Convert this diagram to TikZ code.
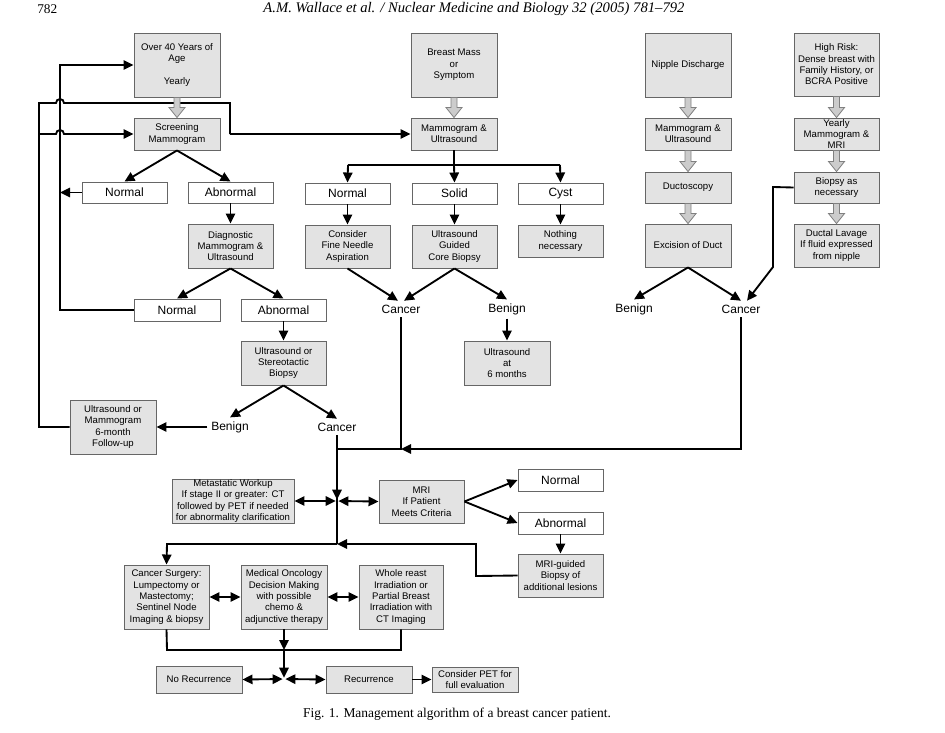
\documentclass[tikz,border=0pt]{standalone}
\usepackage{fontspec}
\setmainfont{Liberation Serif}
\newfontfamily\boxfont{Liberation Sans}
\usetikzlibrary{arrows.meta,calc}
\newcommand{\bx}[7]{\node[#1, minimum width={(#4-#2)*0.75pt}, minimum height={(#5-#3)*0.75pt}] (#6) at ({(#2+#4)/2},{(#3+#5)/2}) {#7};}
\newcommand{\hollow}[2]{\draw[hol] ($(#1.south)+(-3,0)$) -- ($(#1.south)+(3,0)$) -- ($(#2.north)+(3,-10)$) -- ($(#2.north)+(8,-10)$) -- (#2.north) -- ($(#2.north)+(-8,-10)$) -- ($(#2.north)+(-3,-10)$) -- cycle;}
\begin{document}
\begin{tikzpicture}[x=0.75pt,y=-0.75pt,
  gbox/.style={draw=black!60, line width=0.7pt, fill=black!11, align=center, inner sep=0pt, font=\boxfont\fontsize{7.2}{8.5}\selectfont},
  wbox/.style={draw=black!60, line width=0.7pt, fill=white, inner sep=0pt, font=\boxfont\fontsize{9}{10}\selectfont},
  lbl/.style={font=\boxfont\fontsize{9}{10}\selectfont, inner sep=1pt, outer sep=2pt},
  tip/.tip={Triangle[length=7.5pt,width=7pt]},
  conn/.style={line width=1.4pt, -tip},
  plain/.style={line width=1.4pt},
  dbl/.style={line width=1.4pt, tip-tip},
  hol/.style={draw=black!50, fill=black!20, line width=0.6pt}
]
\useasboundingbox (0,0) rectangle (945,732);
% header and caption
\node[anchor=west, inner sep=0pt, font=\fontsize{10}{12}\selectfont] (pg) at (37,9) {782};
\node[inner sep=0pt, font=\itshape\fontsize{11}{13}\selectfont] (hd) at (474,9) {A.M. Wallace et al. / Nuclear Medicine and Biology 32 (2005) 781--792};
\node[inner sep=0pt, font=\fontsize{10.1}{12}\selectfont] (cap) at (457,714) {Fig. 1. Management algorithm of a breast cancer patient.};

% left column
\bx{gbox}{134}{33}{220}{97}{over40}{Over 40 Years of\\Age\\[8.5pt]Yearly}
\bx{gbox}{134}{118}{220}{150}{screen}{Screening\\Mammogram}
\bx{wbox}{82}{182}{167}{203}{norm1}{Normal}
\bx{wbox}{188}{182}{273}{203}{abn1}{Abnormal}
\bx{gbox}{188}{224}{273}{268}{diag}{Diagnostic\\Mammogram \&\\Ultrasound}
\bx{wbox}{134}{299}{220}{321}{norm2}{Normal}
\bx{wbox}{241}{299}{326}{321}{abn2}{Abnormal}
\bx{gbox}{241}{341}{326}{385}{usb}{Ultrasound or\\Stereotactic\\Biopsy}
\node[lbl] (benign1) at (230,427) {Benign};
\node[lbl] (cancer1) at (337,427) {Cancer};
\bx{gbox}{70}{400}{156}{454}{follow}{Ultrasound or\\Mammogram\\6-month\\Follow-up}

% middle column
\bx{gbox}{411}{33}{497}{97}{breast}{Breast Mass\\or\\Symptom}
\bx{gbox}{411}{118}{497}{150}{mu1}{Mammogram \&\\Ultrasound}
\bx{wbox}{305}{183}{390}{204}{norm3}{Normal}
\bx{wbox}{412}{183}{497}{204}{solid}{Solid}
\bx{wbox}{518}{183}{603}{204}{cyst}{Cyst}
\bx{gbox}{305}{225}{390}{268}{fna}{Consider\\Fine Needle\\Aspiration}
\bx{gbox}{412}{225}{497}{268}{ucb}{Ultrasound\\Guided\\Core Biopsy}
\bx{gbox}{518}{225}{603}{257}{nothing}{Nothing\\necessary}
\node[lbl] (cancer2) at (401,309) {Cancer};
\node[lbl] (benign2) at (507,309) {Benign};
\bx{gbox}{464}{341}{550}{385}{us6}{Ultrasound\\at\\6 months}

% right columns
\bx{gbox}{645}{33}{731}{97}{nipple}{Nipple Discharge}
\bx{gbox}{645}{118}{731}{150}{mu2}{Mammogram \&\\Ultrasound}
\bx{gbox}{645}{172}{731}{203}{ducto}{Ductoscopy}
\bx{gbox}{645}{224}{731}{267}{excision}{Excision of Duct}
\bx{gbox}{794}{33}{879}{96}{high}{High Risk:\\Dense breast with\\Family History, or\\BCRA Positive}
\bx{gbox}{794}{118}{879}{150}{yearly}{Yearly\\Mammogram \&\\MRI}
\bx{gbox}{794}{172}{879}{203}{biopsy}{Biopsy as\\necessary}
\bx{gbox}{794}{224}{879}{267}{lavage}{Ductal Lavage\\If fluid expressed\\from nipple}
\node[lbl] (benign3) at (634,309) {Benign};
\node[lbl] (cancer3) at (741,309) {Cancer};

% lower part
\bx{gbox}{172}{479}{294}{523}{meta}{Metastatic Workup\\If stage II or greater: CT\\followed by PET if needed\\for abnormality clarification}
\bx{gbox}{379}{480}{464}{523}{mri}{MRI\\If Patient\\Meets Criteria}
\bx{wbox}{518}{469}{603}{491}{norm4}{Normal}
\bx{wbox}{518}{512}{603}{534}{abn4}{Abnormal}
\bx{gbox}{518}{554}{603}{597}{mrib}{MRI-guided\\Biopsy of\\additional lesions}
\bx{gbox}{124}{565}{209}{629}{surg}{Cancer Surgery:\\Lumpectomy or\\Mastectomy;\\Sentinel Node\\Imaging \& biopsy}
\bx{gbox}{241}{565}{327}{629}{onc}{Medical Oncology\\Decision Making\\with possible\\chemo \&\\adjunctive therapy}
\bx{gbox}{359}{565}{443}{629}{rad}{Whole reast\\Irradiation or\\Partial Breast\\Irradiation with\\CT Imaging}
\bx{gbox}{156}{666}{242}{693}{norec}{No Recurrence}
\bx{gbox}{326}{666}{412}{693}{rec}{Recurrence}
\bx{gbox}{432}{667}{518}{692}{pet}{Consider PET for\\full evaluation}

% junction coordinates
\coordinate (J) at (337,501);
\coordinate (K) at (337,544);
\coordinate (L) at (401,449);
\coordinate (J2) at (284,679);
\coordinate (M) at (284,650);

% left loops
\draw[plain] (follow.west) -- (39,427) -- (39,103) -- (56,103) arc[start angle=180,end angle=0,radius=3pt] -- (230,103) -- (230,134);
\draw[conn] (230,134) -- (mu1.west);
\draw[conn] (39,134) -- (56,134) arc[start angle=180,end angle=0,radius=3pt] -- (screen.west);
\draw[conn] (norm2.west) -- (60,310) -- (60,65) -- (over40.west);
\draw[conn] (norm1.west) -- (60,192.5);

% left tree
\draw[conn] (screen.south) -- (norm1.north);
\draw[conn] (screen.south) -- (abn1.north);
\draw[conn] (abn1.south) -- (diag.north);
\draw[conn] (diag.south) -- (norm2.north);
\draw[conn] (diag.south) -- (abn2.north);
\draw[conn] (abn2.south) -- (usb.north);
\draw[conn] (usb.south) -- (benign1.north);
\draw[conn] (usb.south) -- (cancer1.north);
\draw[conn] (benign1.west) -- (follow.east);

% middle tree
\draw[plain] (mu1.south) -- (454,165);
\draw[plain] (348,165) -- (560,165);
\draw[conn] (348,165) -- (norm3.north);
\draw[conn] (454,165) -- (solid.north);
\draw[conn] (560,165) -- (cyst.north);
\draw[conn] (norm3.south) -- (fna.north);
\draw[conn] (solid.south) -- (ucb.north);
\draw[conn] (cyst.south) -- (nothing.north);
\draw[conn] (fna.south) -- ($(cancer2.north)+(-3,0)$);
\draw[conn] (ucb.south) -- ($(cancer2.north)+(3,0)$);
\draw[conn] (ucb.south) -- (benign2.north);
\draw[conn] (benign2.south) -- (us6.north);

% right trees
\draw[conn] (excision.south) -- (benign3.north);
\draw[conn] (excision.south) -- (cancer3.north);
\draw[conn] (biopsy.west) -- (773,187) -- (773,267) -- ($(cancer3.north)+(6,0)$);

% to the lower part
\draw[conn] (cancer3.south) -- (741,449) -- (L);
\draw[plain] (cancer2.south) -- (L) -- (337,449);
\draw[plain] (cancer1.south) -- (K);
\draw[conn, shorten >=1pt] (337,470) -- (J);
\draw[dbl, shorten >=1pt] (meta.east) -- (J);
\draw[dbl, shorten <=1pt] (J) -- (mri.west);
\draw[conn] (mri.east) -- (norm4.west);
\draw[conn] (mri.east) -- (abn4.west);
\draw[conn] (abn4.south) -- (mrib.north);
\draw[conn] (mrib.west) -- (476,576) -- (476,544) -- (K);
\draw[conn] (K) -- (167,544) -- (surg.north);

% treatment
\draw[dbl] (surg.east |- 0,597) -- (onc.west |- 0,597);
\draw[dbl] (onc.east |- 0,597) -- (rad.west |- 0,597);
\draw[plain] (surg.south) -- (167,650) -- (401,650) -- (rad.south -| 401,0);
\draw[conn] (onc.south) -- (M);
\draw[conn, shorten >=1pt] (M) -- (J2);
\draw[dbl, shorten >=1pt] (norec.east) -- (J2);
\draw[dbl, shorten <=1pt] (J2) -- (rec.west);
\draw[conn] (rec.east) -- (pet.west);

% hollow arrows
\hollow{over40}{screen}
\hollow{breast}{mu1}
\hollow{nipple}{mu2}
\hollow{mu2}{ducto}
\hollow{ducto}{excision}
\hollow{high}{yearly}
\hollow{yearly}{biopsy}
\hollow{biopsy}{lavage}
\end{tikzpicture}
\end{document}
